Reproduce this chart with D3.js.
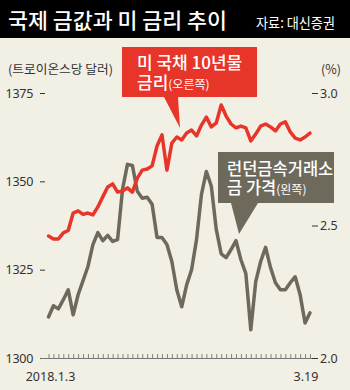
<!DOCTYPE html>
<html>
<head>
<meta charset="utf-8">
<script src="https://cdn.jsdelivr.net/npm/d3@7"></script>
<style>
  html, body { margin: 0; padding: 0; background: #f2efe5; }
  svg { display: block; }
  text { font-family: "Noto Sans CJK KR", "Noto Sans", sans-serif; }
</style>
</head>
<body>
<svg id="chart" width="350" height="390"></svg>
<script>
// Trading days, 2018.1.3 – 3.19
const dates = [
  "1.3","1.4","1.5","1.8","1.9","1.10","1.11","1.12","1.15","1.16","1.17","1.18","1.19",
  "1.22","1.23","1.24","1.25","1.26","1.29","1.30","1.31",
  "2.1","2.2","2.5","2.6","2.7","2.8","2.9","2.12","2.13","2.14","2.15","2.16",
  "2.19","2.20","2.21","2.22","2.23","2.26","2.27","2.28",
  "3.1","3.2","3.5","3.6","3.7","3.8","3.9","3.12","3.13","3.14","3.15","3.16","3.19"
];

// LBMA gold price (USD per troy ounce) – left axis
const goldPrice = [
  1311.6,1314.8,1313.9,1316.5,1319.3,1312.2,1317.9,1321.9,1325.9,1332.1,1335.5,1333.2,1334.7,
  1333.0,1333.5,1347.7,1354.8,1354.5,1347.2,1345.2,1345.5,
  1343.5,1334.1,1334.1,1332.1,1327.3,1319.3,1314.5,1320.7,1325.0,1333.5,1346.3,1352.8,
  1348.6,1336.4,1329.5,1328.4,1330.7,1333.2,1327.8,1323.9,
  1308.0,1321.6,1327.3,1331.3,1325.6,1321.3,1319.3,1319.3,1321.3,1323.0,1317.9,1309.9,1312.8
];

// US 10-year Treasury yield (%) – right axis
const treasuryYield = [
  2.460,2.449,2.449,2.472,2.481,2.547,2.555,2.542,2.547,2.540,2.570,2.608,2.645,
  2.657,2.626,2.630,2.642,2.626,2.679,2.709,2.713,
  2.725,2.800,2.842,2.709,2.811,2.834,2.823,2.849,2.860,2.838,2.879,2.909,
  2.872,2.887,2.955,2.913,2.883,2.868,2.875,2.868,
  2.819,2.845,2.875,2.883,2.872,2.857,2.883,2.891,2.853,2.830,2.823,2.834,2.849
];

const leftTicks = [1300, 1325, 1350, 1375];
const rightTicks = [2.0, 2.5, 3.0];

const BG = "#f2efe5";
const RED = "#e8352a";
const OLIVE = "#6d6a5b";
const INK = "#333";
const NUM_FONT = "'Liberation Sans Narrow', 'Noto Sans', sans-serif";

const svg = d3.select("#chart");

svg.append("rect").attr("width", 350).attr("height", 390).attr("fill", BG);

// Title bar
svg.append("rect").attr("width", 350).attr("height", 38).attr("fill", "#000");
svg.append("text")
  .attr("x", 8).attr("y", 28)
  .attr("fill", "#fff").attr("font-size", 21).attr("font-weight", 500)
  .attr("textLength", 219).attr("lengthAdjust", "spacingAndGlyphs")
  .text("국제 금값과 미 금리 추이");
svg.append("text")
  .attr("x", 256).attr("y", 28)
  .attr("fill", "#fff").attr("font-size", 14)
  .attr("textLength", 79).attr("lengthAdjust", "spacingAndGlyphs")
  .text("자료: 대신증권");

// Scales
const x = d3.scalePoint().domain(dates).range([48.5, 310]);
const yL = d3.scaleLinear().domain([1300, 1375]).range([358, 93]);
const yR = d3.scaleLinear().domain([2.0, 3.0]).range([358, 93]);

// Unit labels
svg.append("text")
  .attr("x", 8).attr("y", 74)
  .attr("fill", INK).attr("font-size", 12.5)
  .attr("textLength", 105).attr("lengthAdjust", "spacingAndGlyphs")
  .text("(트로이온스당 달러)");
svg.append("text")
  .attr("x", 321).attr("y", 74)
  .attr("fill", INK).attr("font-size", 12.5)
  .text("(%)");

// Left axis
const gL = svg.append("g")
  .attr("transform", "translate(45,0)")
  .call(d3.axisLeft(yL).tickValues(leftTicks).tickSize(5).tickPadding(7).tickFormat(d3.format("d")));
gL.select(".domain").remove();
gL.selectAll(".tick line").attr("stroke", INK);
gL.selectAll(".tick text").attr("fill", INK).attr("font-size", 12.5)
  .style("font-family", NUM_FONT).attr("letter-spacing", -0.3);

// Right axis
const gR = svg.append("g")
  .attr("transform", "translate(312,0)")
  .call(d3.axisRight(yR).tickValues(rightTicks).tickSize(6).tickPadding(2).tickFormat(d3.format(".1f")));
gR.select(".domain").remove();
gR.selectAll(".tick line").attr("stroke", INK);
gR.selectAll(".tick text").attr("fill", INK).attr("font-size", 12.5)
  .style("font-family", NUM_FONT);

// Baseline with daily ticks
const [x0, x1] = x.range();
svg.append("line")
  .attr("x1", x0 - 8).attr("x2", x1 + 2)
  .attr("y1", 358.5).attr("y2", 358.5)
  .attr("stroke", "#777").attr("stroke-width", 1.2);
const gX = svg.append("g")
  .attr("transform", "translate(0,358)")
  .call(d3.axisTop(x).tickSize(4).tickSizeOuter(0).tickFormat(""));
gX.select(".domain").remove();
gX.selectAll(".tick line").attr("stroke", "#777").attr("stroke-width", 0.9);

// Date labels at both ends
svg.append("text")
  .attr("x", x(dates[0]) + 2).attr("y", 381)
  .attr("text-anchor", "middle").attr("fill", INK).attr("font-size", 12.5)
  .style("font-family", NUM_FONT)
  .text("2018." + dates[0]);
svg.append("text")
  .attr("x", x(dates[dates.length - 1]) - 4).attr("y", 381)
  .attr("text-anchor", "middle").attr("fill", INK).attr("font-size", 12.5)
  .style("font-family", NUM_FONT)
  .text(dates[dates.length - 1]);

// Lines
const goldLine = d3.line().x((d, i) => x(dates[i])).y(d => yL(d));
const yieldLine = d3.line().x((d, i) => x(dates[i])).y(d => yR(d));

svg.append("path").datum(goldPrice)
  .attr("d", goldLine)
  .attr("fill", "none").attr("stroke", OLIVE).attr("stroke-width", 3.5)
  .attr("stroke-linejoin", "round").attr("stroke-linecap", "round");

svg.append("path").datum(treasuryYield)
  .attr("d", yieldLine)
  .attr("fill", "none").attr("stroke", RED).attr("stroke-width", 3.5)
  .attr("stroke-linejoin", "round").attr("stroke-linecap", "round");

// Callout: Treasury yield
svg.append("path")
  .attr("d", "M122,47 H257 V97 H178 L180,128 L164,97 H122 Z")
  .attr("fill", RED);
const t1 = svg.append("text").attr("fill", "#fff")
  .attr("font-size", 17).attr("font-weight", 500);
t1.append("tspan").attr("x", 137).attr("y", 69).text("미 국채 10년물");
t1.append("tspan").attr("x", 137).attr("y", 89).text("금리");
t1.append("tspan").attr("font-size", 12).attr("font-weight", 400).text("(오른쪽)");

// Callout: London gold price
svg.append("path")
  .attr("d", "M218,152 H334 V203 H258 L239,234 L231,203 H218 Z")
  .attr("fill", OLIVE);
const t2 = svg.append("text").attr("fill", "#fff")
  .attr("font-size", 16.5).attr("font-weight", 500);
t2.append("tspan").attr("x", 227).attr("y", 175).text("런던금속거래소");
t2.append("tspan").attr("x", 227).attr("y", 194).text("금 가격");
t2.append("tspan").attr("font-size", 12).attr("font-weight", 400).text("(왼쪽)");
</script>
</body>
</html>
